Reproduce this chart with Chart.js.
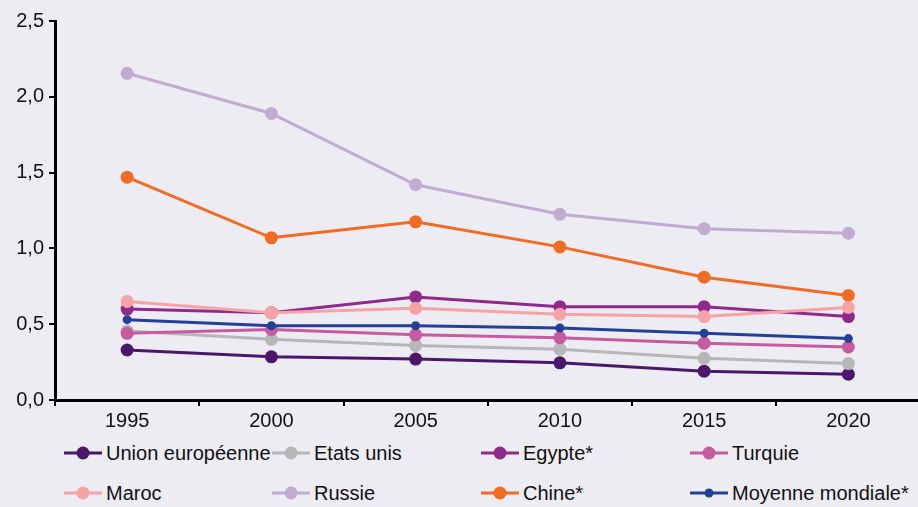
<!DOCTYPE html>
<html lang="fr">
<head>
<meta charset="utf-8">
<script src="https://cdn.jsdelivr.net/npm/chart.js@4/dist/chart.umd.min.js"></script>
<style>
  html, body { margin: 0; padding: 0; background: #edecf3; }
  #wrap { position: relative; width: 918px; height: 507px; overflow: hidden; }
  #c { position: absolute; left: 0; top: 0; }
  .lg { position: absolute; height: 24px; display: flex; align-items: center;
        font-family: "Liberation Sans", Arial, sans-serif; font-size: 20px; color: #111; white-space: nowrap; }
  .lg canvas { margin-right: 4px; }
</style>
</head>
<body>
<div id="wrap">
  <canvas id="c" width="927" height="440"></canvas>
  <div id="legend"></div>
</div>
<script>
// Années
const years = ['1995', '2000', '2005', '2010', '2015', '2020'];
// Graduations de l'axe vertical
const yTicks = [0, 0.5, 1.0, 1.5, 2.0, 2.5];

// Séries
const unionEuropeenne = [0.33, 0.285, 0.27, 0.245, 0.19, 0.17];
const etatsUnis       = [0.455, 0.40, 0.36, 0.335, 0.275, 0.24];
const egypte          = [0.60, 0.575, 0.68, 0.615, 0.615, 0.55];
const turquie         = [0.44, 0.465, 0.43, 0.41, 0.375, 0.35];
const maroc           = [0.65, 0.575, 0.605, 0.565, 0.55, 0.61];
const russie          = [2.155, 1.89, 1.42, 1.225, 1.13, 1.10];
const chine           = [1.47, 1.07, 1.175, 1.01, 0.81, 0.69];
const moyenneMondiale = [0.53, 0.49, 0.49, 0.475, 0.44, 0.405];

const series = [
  { label: 'Union européenne',   data: unionEuropeenne, color: '#4a176b', r: 6.5, order: 6 },
  { label: 'Etats unis',         data: etatsUnis,       color: '#b7b7b7', r: 6.5, order: 5 },
  { label: 'Egypte*',            data: egypte,          color: '#8f2a8c', r: 6.5, order: 4 },
  { label: 'Turquie',            data: turquie,         color: '#c75ba2', r: 6.5, order: 3 },
  { label: 'Maroc',              data: maroc,           color: '#f6a3a6', r: 6.5, order: 2 },
  { label: 'Russie',             data: russie,          color: '#c1abd3', r: 6.5, order: 8 },
  { label: 'Chine*',             data: chine,           color: '#f26b22', r: 6.5, order: 7 },
  { label: 'Moyenne mondiale*',  data: moyenneMondiale, color: '#233f98', r: 4.5, order: 1 }
];

const fmt = v => v.toFixed(1).replace('.', ',');
const FONT = '"Liberation Sans", Arial, sans-serif';

new Chart(document.getElementById('c'), {
  type: 'line',
  data: {
    labels: years,
    datasets: series.map(s => ({
      label: s.label,
      data: s.data,
      borderColor: s.color,
      backgroundColor: s.color,
      pointBackgroundColor: s.color,
      pointBorderWidth: 0,
      pointRadius: s.r,
      borderWidth: 3,
      tension: 0,
      order: s.order
    }))
  },
  options: {
    responsive: false,
    animation: false,
    events: [],
    layout: { padding: { top: 21, right: 0, left: 0, bottom: 0 } },
    plugins: { legend: { display: false }, tooltip: { enabled: false } },
    scales: {
      x: {
        offset: true,
        grid: { offset: true, drawOnChartArea: false, drawTicks: true, tickLength: 6, color: '#000', lineWidth: 2 },
        border: { display: true, color: '#000', width: 3 },
        ticks: { color: '#111', font: { family: FONT, size: 20 }, padding: 3, maxRotation: 0 },
        afterFit: s => { s.height = 40; }
      },
      y: {
        min: 0, max: 2.5,
        afterBuildTicks: s => { s.ticks = yTicks.map(v => ({ value: v })); },
        grid: { drawOnChartArea: false, drawTicks: true, tickLength: 6, color: '#000', lineWidth: 2 },
        border: { display: true, color: '#000', width: 3 },
        ticks: { color: '#111', font: { family: FONT, size: 20 }, padding: 5, callback: v => fmt(v) },
        afterFit: s => { s.width = 55; }
      }
    }
  }
});

// Légende sur deux lignes, quatre colonnes
const cols = [64, 272, 481, 690];
const rows = [441, 481];
const legend = document.getElementById('legend');
series.forEach((s, i) => {
  const item = document.createElement('div');
  item.className = 'lg';
  item.style.left = cols[i % 4] + 'px';
  item.style.top = rows[Math.floor(i / 4)] + 'px';
  const sym = document.createElement('canvas');
  sym.width = 38; sym.height = 24;
  const g = sym.getContext('2d');
  g.strokeStyle = s.color; g.lineWidth = 3;
  g.beginPath(); g.moveTo(0, 12); g.lineTo(38, 12); g.stroke();
  g.fillStyle = s.color;
  g.beginPath(); g.arc(19, 12, s.r, 0, Math.PI * 2); g.fill();
  item.appendChild(sym);
  const t = document.createElement('span');
  t.textContent = s.label;
  item.appendChild(t);
  legend.appendChild(item);
});
</script>
</body>
</html>
